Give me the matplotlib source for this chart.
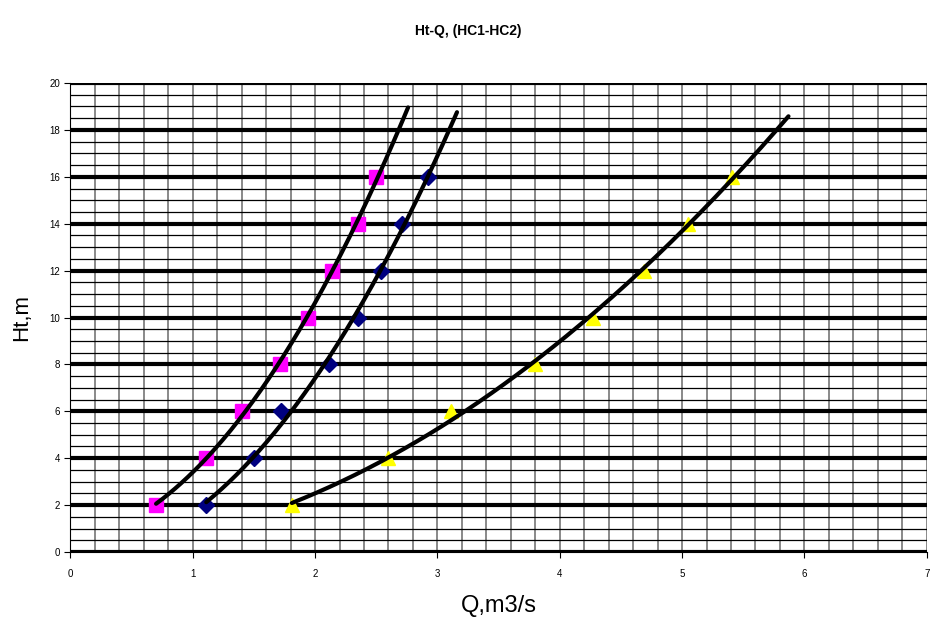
import numpy as np
import matplotlib
matplotlib.use("Agg")
import matplotlib.pyplot as plt
from matplotlib.ticker import MultipleLocator

plt.rcParams["font.family"] = ["Liberation Sans", "DejaVu Sans"]

# head levels, m
ht = [2, 4, 6, 8, 10, 12, 14, 16]

# discharge readings, m3/s
q_pink = [0.70, 1.11, 1.40, 1.71, 1.94, 2.14, 2.35, 2.50]
q_blue = [1.11, 1.50, 1.72, 2.11, 2.35, 2.54, 2.71, 2.92]
q_yellow = [1.81, 2.60, 3.11, 3.80, 4.27, 4.69, 5.05, 5.41]

# where the excel trendlines stop (forecast forward)
trend_end = [2.76, 3.16, 5.87]

series = [
    (q_pink, "s", "#FF00FF", 10),
    (q_blue, "D", "#000080", 8),
    (q_yellow, "^", "#FFFF00", 10),
]

fig = plt.figure(figsize=(9.37, 6.25), dpi=100)
ax = fig.add_axes([0.0752, 0.1168, 0.9138, 0.7504])

ax.set_xlim(0, 7)
ax.set_ylim(0, 20)

# graph-paper style grid
ax.xaxis.set_major_locator(MultipleLocator(1))
ax.xaxis.set_minor_locator(MultipleLocator(0.2))
ax.yaxis.set_major_locator(MultipleLocator(2))
ax.yaxis.set_minor_locator(MultipleLocator(0.5))
ax.set_axisbelow(True)
ax.grid(which="minor", axis="x", color="#808080", lw=1.3)
ax.grid(which="major", axis="x", color="#808080", lw=1.3)
ax.grid(which="minor", axis="y", color="black", lw=0.9)
ax.grid(which="major", axis="y", color="black", lw=3.0)
ax.tick_params(which="minor", length=0)
ax.tick_params(which="major", length=4, width=0.8, labelsize=7, direction="out")
ax.tick_params(axis="x", pad=8)

for (q, mk, col, ms), qend in zip(series, trend_end):
    ax.plot(q, ht, ls="none", marker=mk, color=col, markersize=ms, zorder=3)
    coef = np.polyfit(q, ht, 2)
    xx = np.linspace(q[0], qend, 200)
    ax.plot(xx, np.polyval(coef, xx), color="black", lw=3.0,
            solid_capstyle="round", zorder=4)

for side in ["top", "right"]:
    ax.spines[side].set_visible(False)
ax.spines["left"].set_linewidth(0.8)
ax.spines["bottom"].set_linewidth(0.8)

ax.set_xlabel("Q,m3/s", fontsize=17, labelpad=12)
ax.set_ylabel("Ht,m", fontsize=16, labelpad=12)
fig.suptitle("Ht-Q, (HC1-HC2)", fontsize=10, fontweight="bold", y=0.962)

fig.savefig("out.png", dpi=100)
